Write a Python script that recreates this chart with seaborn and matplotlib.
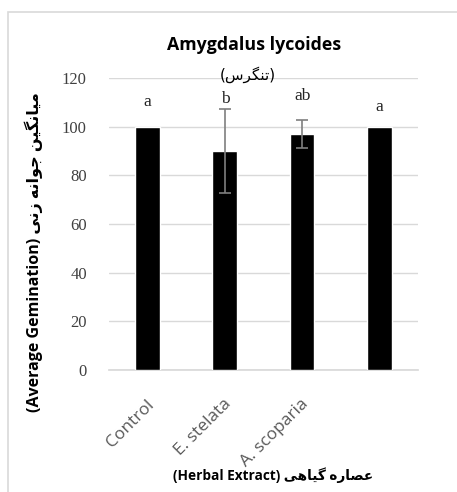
import matplotlib
matplotlib.use("Agg")
import matplotlib.pyplot as plt
import seaborn as sns
import pandas as pd
from matplotlib.patches import Rectangle

sns.set_theme(style="white")

# data
extracts = ["Control", "E. stelata", "A. scoparia", ""]
germination = [100, 90, 97, 100]
errors = [0, 17.4, 5.7, 0]
letters = ["a", "b", "ab", "a"]
letter_y = [110, 111.5, 112.6, 108]
yticks = [0, 20, 40, 60, 80, 100, 120]

# Persian text in visual (left-to-right) order, with presentation forms
fa_title = "(\uFEB1\uFEAE\uFB95\uFEE8\uFE97)"
fa_ylab = "\uFBFD\uFEE7\uFEAF \uFEEA\uFEE7\uFE8D\uFEEE\uFE9F \uFEE6\uFBFF\uFB95\uFEE7\uFE8E\uFBFF\uFEE3"
fa_xlab = "\uFBFD\uFEEB\uFE8E\uFBFF\uFB94 \uFEE9\uFEAD\uFE8E\uFEBC\uFECB"

df = pd.DataFrame({"extract": range(len(extracts)), "germ": germination,
                   "err": errors})

fig = plt.figure(figsize=(4.57, 4.92), dpi=100)
fig.patches.append(Rectangle((8 / 457, -0.05), 1.2, 1 - 12 / 492 + 0.05,
                             transform=fig.transFigure, fill=False,
                             edgecolor="#d9d9d9", linewidth=1.2))
ax = fig.add_axes([0.2385, 0.248, 0.676, 0.5935])

sns.barplot(data=df, x="extract", y="germ", color="black", width=0.32,
            saturation=1, errorbar=None, ax=ax, zorder=3)
eb = df[df["err"] > 0]
ax.errorbar(eb["extract"], eb["germ"], yerr=eb["err"], fmt="none",
            ecolor="#7f7f7f", elinewidth=1.2, capsize=4, capthick=1.2, zorder=4)

for i, (lab, yy) in enumerate(zip(letters, letter_y)):
    ax.text(i, yy, lab, ha="center", va="center", fontsize=12.5,
            family="Liberation Serif", color="#222222")

ax.set_ylim(0, 120)
ax.set_xlim(-0.5, 3.5)
ax.set_yticks(yticks)
ax.set_yticklabels([str(v) for v in yticks], family="Liberation Serif",
                   fontsize=12, color="#404040")
ax.yaxis.grid(True, color="#d9d9d9", linewidth=1, zorder=0)
ax.tick_params(axis="y", length=0, pad=16)

ax.set_xticks([-0.5, 0.5, 1.5, 2.5, 3.5])
ax.set_xticklabels([])
ax.tick_params(axis="x", length=5, color="#d9d9d9", width=1, direction="out")
for i, lab in enumerate(extracts):
    ax.annotate(lab, xy=(i, 0), xytext=(-1, -19), textcoords="offset points",
                ha="right", va="top", rotation=45, rotation_mode="anchor",
                fontsize=12.5, family="Open Sans", color="#595959",
                annotation_clip=False)

for s in ["top", "right", "left"]:
    ax.spines[s].set_visible(False)
ax.spines["bottom"].set_color("#d9d9d9")

ax.set_ylabel("")
ax.set_xlabel("")
fig.text(0.074, 0.488, "(Average Gemination) " + fa_ylab, rotation=90,
         ha="center", va="center", fontsize=11.5, fontweight="bold",
         family=["Open Sans", "DejaVu Sans"], color="black")
fig.text(0.598, 0.035, "(Herbal Extract) " + fa_xlab, ha="center", va="center",
         fontsize=9.8, fontweight="bold", family=["Open Sans", "DejaVu Sans"],
         color="black")
fig.text(0.557, 0.908, "Amygdalus lycoides", ha="center", va="center",
         fontsize=12.8, fontweight="bold", family="Open Sans", color="black")
fig.text(0.543, 0.848, fa_title, ha="center", va="center", fontsize=11,
         family=["DejaVu Sans"], color="black")

fig.savefig("out.png", dpi=100)
